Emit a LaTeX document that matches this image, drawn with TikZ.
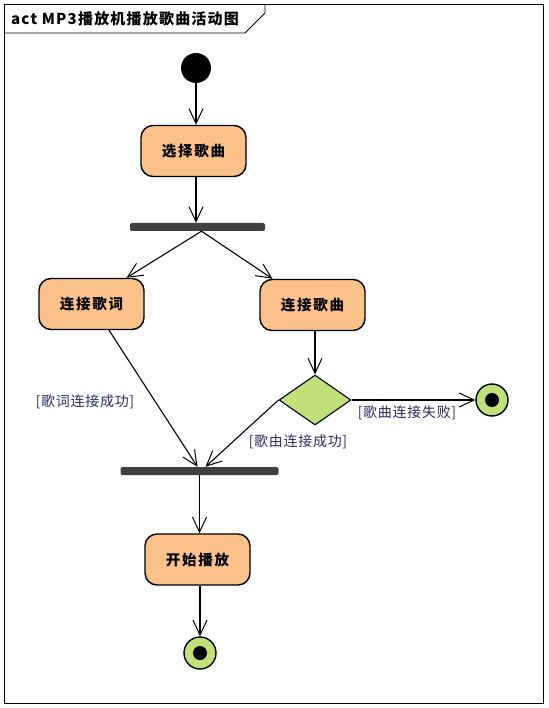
\documentclass[tikz,border=0pt]{standalone}
\usepackage{fontspec}
\newfontfamily\cjk{Noto Sans CJK SC}
\newfontfamily\cjkwide[LetterSpace=12]{Noto Sans CJK SC}
\newfontfamily\cjkmid[LetterSpace=5]{Noto Sans CJK SC}
\newfontfamily\cjktitle[LetterSpace=8]{Noto Sans CJK SC}
\usetikzlibrary{arrows.meta,shapes.geometric,calc}
\definecolor{actfill}{HTML}{FBC18A}
\definecolor{grn}{HTML}{C0E07A}
\definecolor{barc}{HTML}{404040}
\definecolor{lblc}{HTML}{2C2C66}
\tikzset{
  action/.style={draw=black,line width=1.4pt,fill=actfill,rounded corners=12pt,minimum width=105pt,minimum height=51pt,inner sep=0pt,font=\cjkwide\bfseries\fontsize{14.5}{16}\selectfont},
  barnode/.style={fill=barc,rounded corners=2pt,minimum height=8pt,inner sep=0pt},
  arr/.style={line width=1.1pt,-{Straight Barb[length=15pt,width=14pt,line width=1pt]}},
  guard/.style={text=lblc,inner sep=0pt,font=\cjkmid\fontsize{14}{16}\selectfont},
  finalnode/.style={circle,draw=black,line width=1.4pt,fill=grn,minimum size=32pt,inner sep=0pt},
}
\begin{document}
\begin{tikzpicture}[x=1pt,y=-1pt]
\useasboundingbox (0,0) rectangle (548,708);
% frame
\draw[line width=0.8pt] (4,4) rectangle (543,703);
\draw[line width=0.8pt] (4,33) -- (245,33) -- (265,13) -- (265,4);
\node[anchor=west,inner sep=0pt,font=\cjktitle\bfseries\fontsize{15}{17}\selectfont] (title) at (11,19) {act MP3播放机播放歌曲活动图};
% nodes
\node[circle,fill=black,minimum size=30pt,inner sep=0pt] (init) at (196,68) {};
\node[action] (a1) at (193.5,151) {选择歌曲};
\node[barnode,minimum width=135pt] (f1) at (197.5,227) {};
\node[action] (a2) at (91.5,304) {连接歌词};
\node[action] (a3) at (312.5,305) {连接歌曲};
\node[diamond,draw=black,line width=1.1pt,fill=grn,minimum width=72pt,minimum height=50pt,aspect=1.44,inner sep=0pt] (d1) at (315,400) {};
\node[finalnode] (fin1) at (492,400) {};
\fill[black] (fin1) circle (7pt);
\node[barnode,minimum width=158pt] (j1) at (199.5,471) {};
\node[action] (a4) at (197.5,559.5) {开始播放};
\node[finalnode] (fin2) at (200,653) {};
\fill[black] (fin2) circle (7pt);
% guards
\node[guard] (g1) at (85,402) {[歌词连接成功]};
\node[guard] (g2) at (298,442) {[歌由连接成功]};
\node[guard] (g3) at (407,413) {[歌曲连接失败]};
% connectors
\draw[arr] (init.south) -- (init.south |- a1.north);
\draw[arr] (a1.south -| init) -- (f1.north -| init);
\draw[arr] ($(f1.south)+(4,0)$) -- ($(a2.north)+(35,0)$);
\draw[arr] ($(f1.south)+(4,0)$) -- ($(a3.north)+(-40,0)$);
\draw[arr] ($(a2.south)+(17.5,0)$) -- ($(j1.north)+(-2,0)$);
\draw[arr] (a3.south -| d1) -- (d1.north);
\draw[arr] (d1.west) -- ($(j1.north)+(6,0)$);
\draw[arr] (d1.east) -- (fin1.west);
\draw[arr] (j1.south) -- (j1.south |- a4.north);
\draw[arr] (a4.south -| fin2) -- (fin2.north);
\end{tikzpicture}
\end{document}
